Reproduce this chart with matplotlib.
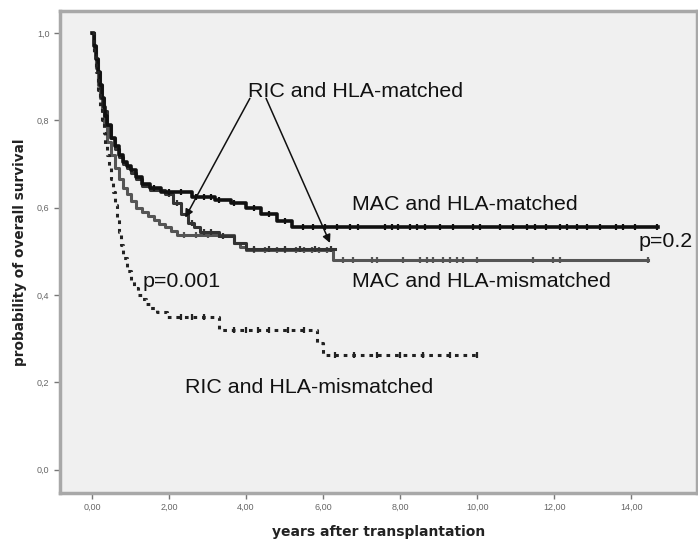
import numpy as np
import matplotlib.pyplot as plt

# Kaplan-Meier step curves: event times (years) and survival after each step
mac_match_t = [0, 0.05, 0.1, 0.15, 0.2, 0.25, 0.3, 0.35, 0.4, 0.5, 0.6, 0.7, 0.8, 0.9, 1.0, 1.15, 1.3,
               1.5, 1.8, 2.6, 3.2, 3.6, 4.0, 4.4, 4.8, 5.2]
mac_match_s = [1.0, 0.97, 0.94, 0.91, 0.88, 0.85, 0.83, 0.81, 0.79, 0.76, 0.74, 0.72, 0.705, 0.695, 0.685,
               0.67, 0.655, 0.645, 0.635, 0.625, 0.618, 0.61, 0.60, 0.585, 0.57, 0.556]
mac_match_end = 14.7
mac_match_cens = [1.6, 2.0, 2.3, 2.7, 2.9, 3.1, 3.3, 3.7, 4.2, 4.6, 5.0, 5.48, 5.74, 6.05, 6.36, 6.7, 6.91,
                  7.61, 7.79, 7.95, 8.26, 8.44, 8.65, 9.04, 9.38, 9.9, 10.08, 10.6, 10.93, 11.3, 11.5,
                  11.8, 12.16, 12.34, 12.6, 12.86, 13.2, 13.6, 13.8, 14.1, 14.68]

ric_match_t = [0, 0.05, 0.1, 0.15, 0.2, 0.25, 0.3, 0.4, 0.5, 0.6, 0.7, 0.8, 0.9, 1.0, 1.15, 1.3, 1.5,
               1.9, 2.1, 2.3, 2.5, 2.65, 2.8, 3.3, 3.7, 4.0]
ric_match_s = [1.0, 0.97, 0.94, 0.91, 0.88, 0.85, 0.82, 0.79, 0.76, 0.735, 0.715, 0.70, 0.69, 0.68, 0.665,
               0.65, 0.64, 0.63, 0.61, 0.585, 0.565, 0.555, 0.545, 0.535, 0.52, 0.505]
ric_match_end = 6.3
ric_match_cens = [2.0, 2.2, 2.6, 2.9, 3.1, 3.4, 4.2, 4.6, 5.0, 5.4, 5.8, 6.2]

mac_mis_t = [0, 0.05, 0.1, 0.15, 0.2, 0.25, 0.3, 0.4, 0.5, 0.6, 0.7, 0.8, 0.9, 1.0, 1.15, 1.3, 1.45,
             1.6, 1.75, 1.9, 2.05, 2.2, 3.7, 3.85, 4.0, 6.25]
mac_mis_s = [1.0, 0.96, 0.92, 0.88, 0.85, 0.82, 0.79, 0.75, 0.72, 0.69, 0.665, 0.645, 0.63, 0.615, 0.60,
             0.59, 0.58, 0.572, 0.563, 0.555, 0.546, 0.538, 0.52, 0.51, 0.503, 0.48]
mac_mis_end = 14.45
mac_mis_cens = [2.4, 2.7, 3.0, 3.3, 4.2, 4.5, 4.8, 5.0, 5.3, 5.5, 5.7, 5.9, 6.1, 6.52, 6.78, 7.27, 7.4,
                8.08, 8.52, 8.7, 8.86, 9.12, 9.3, 9.48, 9.64, 10.0, 11.45, 11.97, 12.16, 14.44]

ric_mis_t = [0, 0.05, 0.1, 0.15, 0.2, 0.25, 0.3, 0.35, 0.4, 0.45, 0.5, 0.55, 0.6, 0.65, 0.7, 0.75, 0.8,
             0.9, 1.0, 1.1, 1.2, 1.3, 1.4, 1.5, 1.7, 1.95, 3.3, 5.85, 6.0]
ric_mis_s = [1.0, 0.95, 0.91, 0.87, 0.83, 0.80, 0.77, 0.745, 0.72, 0.695, 0.665, 0.635, 0.605, 0.575,
             0.545, 0.515, 0.485, 0.455, 0.435, 0.415, 0.40, 0.39, 0.38, 0.37, 0.36, 0.35, 0.32, 0.29, 0.263]
ric_mis_end = 10.0
ric_mis_cens = [2.3, 2.6, 2.9, 3.7, 4.0, 4.3, 4.6, 5.1, 5.5, 6.3, 6.8, 7.4, 8.0, 8.6, 9.3, 10.0]

x_ticks = [0, 2, 4, 6, 8, 10, 12, 14]
y_ticks = [0.0, 0.2, 0.4, 0.6, 0.8, 1.0]

plt.rcParams['font.family'] = ['Liberation Sans', 'DejaVu Sans']

fig = plt.figure(figsize=(6.98, 5.41), dpi=100)
ax = fig.add_axes([0.086, 0.089, 0.9126, 0.8907])
ax.set_facecolor('#f0f0f0')


def km(ax, t, s, end, cens, **kw):
    t = np.array(t + [end])
    s = np.array(s + [s[-1]])
    ax.step(t, s, where='post', **kw)
    idx = np.searchsorted(t, np.array(cens), side='right') - 1
    ax.plot(cens, s[idx], linestyle='none', marker='|', markersize=5,
            markeredgewidth=1.6, color=kw.get('color', 'k'))


km(ax, mac_mis_t, mac_mis_s, mac_mis_end, mac_mis_cens, color='#555555', lw=2.2)
km(ax, ric_match_t, ric_match_s, ric_match_end, ric_match_cens, color='#333333', lw=2.2)
km(ax, mac_match_t, mac_match_s, mac_match_end, mac_match_cens, color='#111111', lw=2.6)
km(ax, ric_mis_t, ric_mis_s, ric_mis_end, ric_mis_cens, color='#222222', lw=2.2,
   linestyle=(0, (1.2, 1.6)))

ax.set_xlim(-0.83, 15.71)
ax.set_ylim(-0.053, 1.05)
ax.set_xticks(x_ticks)
ax.set_xticklabels([f'{v:.2f}'.replace('.', ',') for v in x_ticks])
ax.set_yticks(y_ticks)
ax.set_yticklabels([f'{v:.1f}'.replace('.', ',') for v in y_ticks])
ax.tick_params(direction='out', length=4, width=1, colors='#777777', labelsize=6.5,
               labelcolor='#666666')
for sp in ax.spines.values():
    sp.set_color('#a8a8a8')
    sp.set_linewidth(2.5)

ax.set_xlabel('years after transplantation', fontsize=10, fontweight='bold',
              family='DejaVu Sans', color='#222222', labelpad=9)
ax.set_ylabel('probability of overall survival', fontsize=9.8, fontweight='bold',
              family='DejaVu Sans', color='#222222', labelpad=7)

lab = dict(fontsize=15.4, color='#111111', va='center', ha='left')
ax.text(4.05, 0.865, 'RIC and HLA-matched', **lab)
ax.text(6.75, 0.606, 'MAC and HLA-matched', **lab)
ax.text(6.75, 0.43, 'MAC and HLA-mismatched', **lab)
ax.text(14.2, 0.522, 'p=0.2', **lab)
ax.text(1.32, 0.43, 'p=0.001', **lab)
ax.text(2.42, 0.188, 'RIC and HLA-mismatched', **lab)

arrow = dict(arrowstyle='-|>', color='#111111', lw=1.1, mutation_scale=12, shrinkA=0, shrinkB=0)
ax.annotate('', xy=(2.42, 0.577), xytext=(4.1, 0.85), arrowprops=arrow)
ax.annotate('', xy=(6.18, 0.519), xytext=(4.52, 0.85), arrowprops=arrow)

fig.savefig('out.png', dpi=100)
